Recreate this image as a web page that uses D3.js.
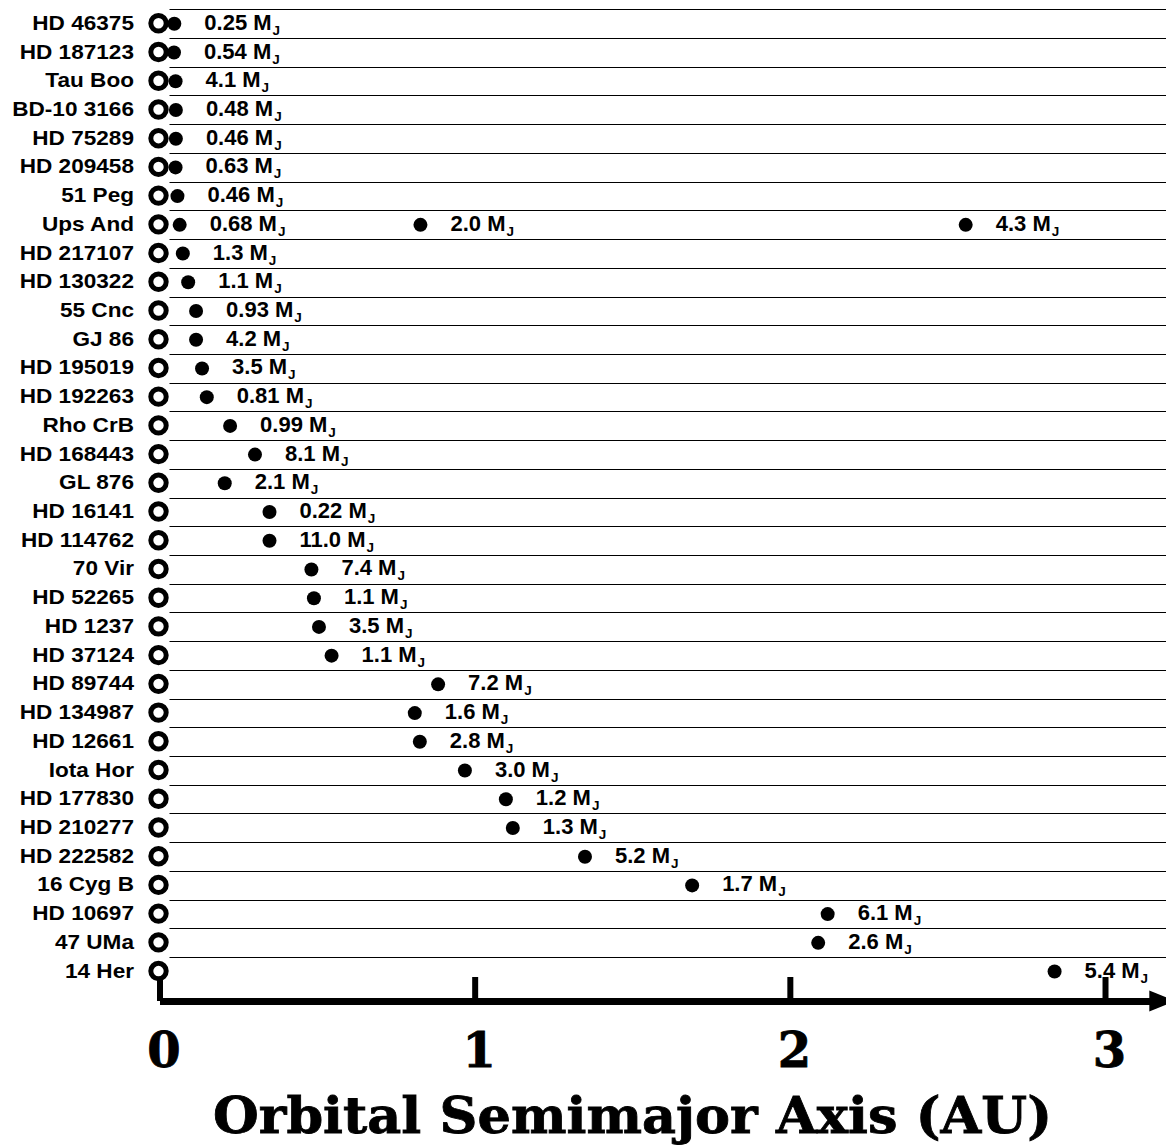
<!DOCTYPE html>
<html>
<head>
<meta charset="utf-8">
<script src="https://cdn.jsdelivr.net/npm/d3@7"></script>
<style>
  body { margin: 0; background: #fff; }
  svg { display: block; }
</style>
</head>
<body>
<script>
// host stars, top to bottom
let stars = ['HD 46375','HD 187123','Tau Boo','BD-10 3166','HD 75289','HD 209458','51 Peg','Ups And',
  'HD 217107','HD 130322','55 Cnc','GJ 86','HD 195019','HD 192263','Rho CrB','HD 168443','GL 876',
  'HD 16141','HD 114762','70 Vir','HD 52265','HD 1237','HD 37124','HD 89744','HD 134987','HD 12661',
  'Iota Hor','HD 177830','HD 210277','HD 222582','16 Cyg B','HD 10697','47 UMa','14 Her']

// planets: which star, semimajor axis (AU), mass (Jupiter masses)
let planetStar = ['HD 46375','HD 187123','Tau Boo','BD-10 3166','HD 75289','HD 209458','51 Peg',
  'Ups And','Ups And','Ups And','HD 217107','HD 130322','55 Cnc','GJ 86','HD 195019','HD 192263',
  'Rho CrB','HD 168443','GL 876','HD 16141','HD 114762','70 Vir','HD 52265','HD 1237','HD 37124',
  'HD 89744','HD 134987','HD 12661','Iota Hor','HD 177830','HD 210277','HD 222582','16 Cyg B',
  'HD 10697','47 UMa','14 Her']
let planetA = [0.047,0.046,0.051,0.052,0.052,0.051,0.057,
  0.064,0.828,2.558,0.074,0.091,0.116,0.116,0.135,0.150,
  0.224,0.303,0.207,0.349,0.349,0.482,0.490,0.506,0.546,
  0.884,0.810,0.826,0.969,1.099,1.121,1.350,1.690,
  2.120,2.090,2.840]
let planetMass = ['0.25','0.54','4.1','0.48','0.46','0.63','0.46',
  '0.68','2.0','4.3','1.3','1.1','0.93','4.2','3.5','0.81',
  '0.99','8.1','2.1','0.22','11.0','7.4','1.1','3.5','1.1',
  '7.2','1.6','2.8','3.0','1.2','1.3','5.2','1.7',
  '6.1','2.6','5.4']

let axisTicks = [0, 1, 2, 3]
let axisTitle = 'Orbital Semimajor Axis (AU)'

let width = 1166
let height = 1147
let rowTop = 9.3
let rowStep = 28.72
let axisY = 1001

let svg = d3.select('body').append('svg')
  .attr('width', width).attr('height', height)

let xScale = d3.scaleLinear()
  .domain([0, 3.15])
  .range([159.5, 159.5 + 3.15 * 315.17])

let yScale = d3.scaleBand()
  .domain(stars)
  .range([rowTop, rowTop + stars.length * rowStep])

let sans = '"Liberation Sans", Arial, sans-serif'
let serif = '"DejaVu Serif", serif'

// row separators
svg.append('g')
  .selectAll('line')
  .data(stars)
  .enter()
  .append('line')
  .attr('x1', xScale(0) + 10)
  .attr('x2', width)
  .attr('y1', d => Math.round(yScale(d)) + 0.5)
  .attr('y2', d => Math.round(yScale(d)) + 0.5)
  .attr('stroke', '#000')
  .attr('stroke-width', 1)

// axis
let xAxis = d3.axisBottom(xScale)
  .tickValues(axisTicks)
  .tickFormat(d3.format('d'))
  .tickSizeInner(-24)
  .tickSizeOuter(0)
  .tickPadding(32)

let axisG = svg.append('g')
  .attr('transform', `translate(0,${axisY})`)
  .call(xAxis)

axisG.select('.domain')
  .attr('stroke', '#000')
  .attr('stroke-width', 7)
axisG.selectAll('.tick line')
  .attr('stroke', '#000')
  .attr('stroke-width', 6)
axisG.selectAll('.tick text')
  .attr('dx', 4)
  .attr('fill', '#000')
  .attr('stroke', '#000')
  .attr('stroke-width', 0.8)
  .style('font-family', serif)
  .style('font-weight', 'bold')
  .style('font-size', '48px')

// arrow head
let xEnd = xScale.range()[1] - 3
axisG.append('path')
  .attr('d', `M${xEnd},-10.5L${xEnd + 26},0L${xEnd},10.5Z`)
  .attr('fill', '#000')

svg.append('text')
  .attr('x', 632.5)
  .attr('y', 1133)
  .attr('text-anchor', 'middle')
  .attr('textLength', 839)
  .attr('lengthAdjust', 'spacingAndGlyphs')
  .attr('stroke', '#000')
  .attr('stroke-width', 0.8)
  .style('font-family', serif)
  .style('font-weight', 'bold')
  .style('font-size', '50px')
  .text(axisTitle)

// star names
svg.append('g')
  .selectAll('text')
  .data(stars)
  .enter()
  .append('text')
  .attr('transform', d => `translate(134,${yScale(d) + 20.5}) scale(1.13,1)`)
  .attr('text-anchor', 'end')
  .style('font-family', sans)
  .style('font-weight', 'bold')
  .style('font-size', '20px')
  .text(d => d)

// stars (open circles at a = 0)
svg.append('g')
  .selectAll('circle')
  .data(stars)
  .enter()
  .append('circle')
  .attr('cx', xScale(0) - 1)
  .attr('cy', d => yScale(d) + 14)
  .attr('r', 7.7)
  .attr('fill', '#fff')
  .attr('stroke', '#000')
  .attr('stroke-width', 5)

let planets = planetStar.map((s, i) => ({star: s, a: planetA[i], mass: planetMass[i]}))

// planets
svg.append('g')
  .selectAll('circle')
  .data(planets)
  .enter()
  .append('circle')
  .attr('cx', d => xScale(d.a))
  .attr('cy', d => yScale(d.star) + 14.5)
  .attr('r', 7)
  .attr('fill', '#000')

let massLabels = svg.append('g')
  .selectAll('text')
  .data(planets)
  .enter()
  .append('text')
  .attr('x', d => xScale(d.a) + 30)
  .attr('y', d => yScale(d.star) + 20.5)
  .style('font-family', sans)
  .style('font-weight', 'bold')
  .style('font-size', '22px')

massLabels.append('tspan').text(d => d.mass + ' M')
massLabels.append('tspan')
  .attr('dy', 5)
  .attr('dx', 1)
  .style('font-size', '13.5px')
  .text('J')
</script>
</body>
</html>
